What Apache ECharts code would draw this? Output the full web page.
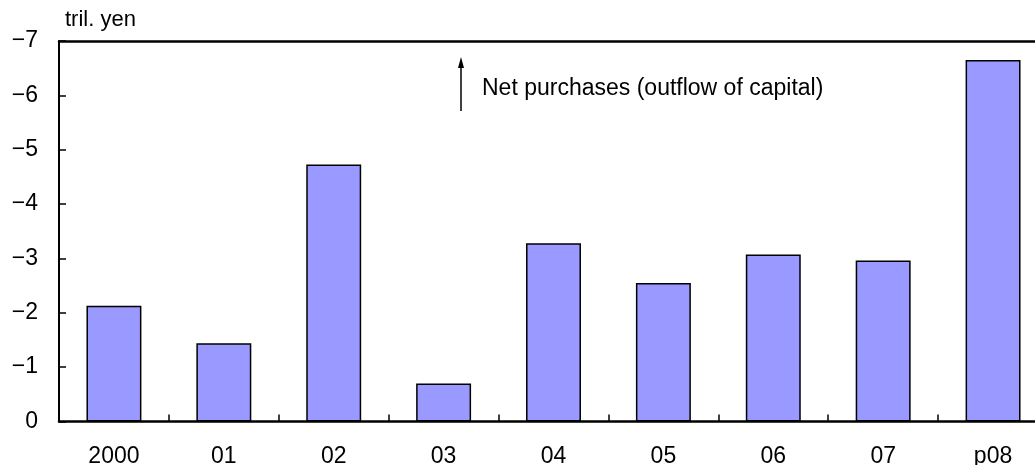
<!DOCTYPE html>
<html>
<head>
<meta charset="utf-8">
<title>Net purchases of foreign securities</title>
<script src="https://cdn.jsdelivr.net/npm/echarts@6/dist/echarts.min.js"></script>
<style>
  html, body { margin: 0; padding: 0; background: #fff; }
  #chart { width: 1035px; height: 465px; }
</style>
</head>
<body>
<div id="chart"></div>
<script>
// Fiscal years on the category axis
var years = ['2000', '01', '02', '03', '04', '05', '06', '07', 'p08'];
// Net purchases, trillion yen (negative = outflow of capital)
var netPurchases = [-2.13, -1.44, -4.73, -0.70, -3.28, -2.55, -3.07, -2.96, -6.65];
// Value axis range and step
var axisMin = -7;
var axisMax = 0;
var axisStep = 1;

var unitLabel = 'tril. yen';
var noteLabel = 'Net purchases (outflow of capital)';

var FONT = '"Liberation Sans", Arial, sans-serif';

var chart = echarts.init(document.getElementById('chart'), null, { renderer: 'canvas' });

function minusLabel(v) {
  if (v === 0) return '0';
  return (v < 0 ? '\u2212' : '') + Math.abs(v);
}

chart.setOption({
  animation: false,
  backgroundColor: '#ffffff',
  grid: {
    left: 59, right: -13, top: 41, bottom: 43.5,
    containLabel: false,
    outerBoundsMode: 'none'
  },
  xAxis: [
    {
      type: 'category',
      data: years,
      position: 'bottom',
      axisLine: { show: true, lineStyle: { color: '#000', width: 2.5 } },
      axisTick: { show: true, inside: true, length: 7, lineStyle: { color: '#000', width: 1.5 } },
      axisLabel: { color: '#000', fontFamily: FONT, fontSize: 23, margin: 24 },
      splitLine: { show: false }
    },
    {
      type: 'category',
      data: years,
      position: 'top',
      axisLine: { show: true, lineStyle: { color: '#000', width: 2.5 } },
      axisTick: { show: false },
      axisLabel: { show: false },
      splitLine: { show: false }
    }
  ],
  yAxis: {
    type: 'value',
    inverse: true,
    min: axisMin,
    max: axisMax,
    interval: axisStep,
    axisLine: { show: true, lineStyle: { color: '#000', width: 2 } },
    axisTick: { show: true, inside: true, length: 7, lineStyle: { color: '#000', width: 1.5 } },
    axisLabel: { color: '#000', fontFamily: FONT, fontSize: 23, margin: 21, formatter: minusLabel },
    splitLine: { show: false }
  },
  series: [
    {
      type: 'bar',
      data: netPurchases,
      barWidth: '50%',
      itemStyle: { color: '#9999ff', borderColor: '#000', borderWidth: 1.5 },
      silent: true
    }
  ],
  graphic: [
    {
      type: 'text',
      left: 65,
      top: 9,
      style: { text: unitLabel, fill: '#000', font: '22px ' + FONT }
    },
    {
      type: 'line',
      shape: { x1: 461, y1: 111, x2: 461, y2: 66 },
      style: { stroke: '#000', lineWidth: 1.5 }
    },
    {
      type: 'polygon',
      shape: { points: [[461, 57], [458, 68], [464, 68]] },
      style: { fill: '#000' }
    },
    {
      type: 'text',
      left: 482,
      top: 77,
      style: { text: noteLabel, fill: '#000', font: '23px ' + FONT }
    }
  ]
});
</script>
</body>
</html>
